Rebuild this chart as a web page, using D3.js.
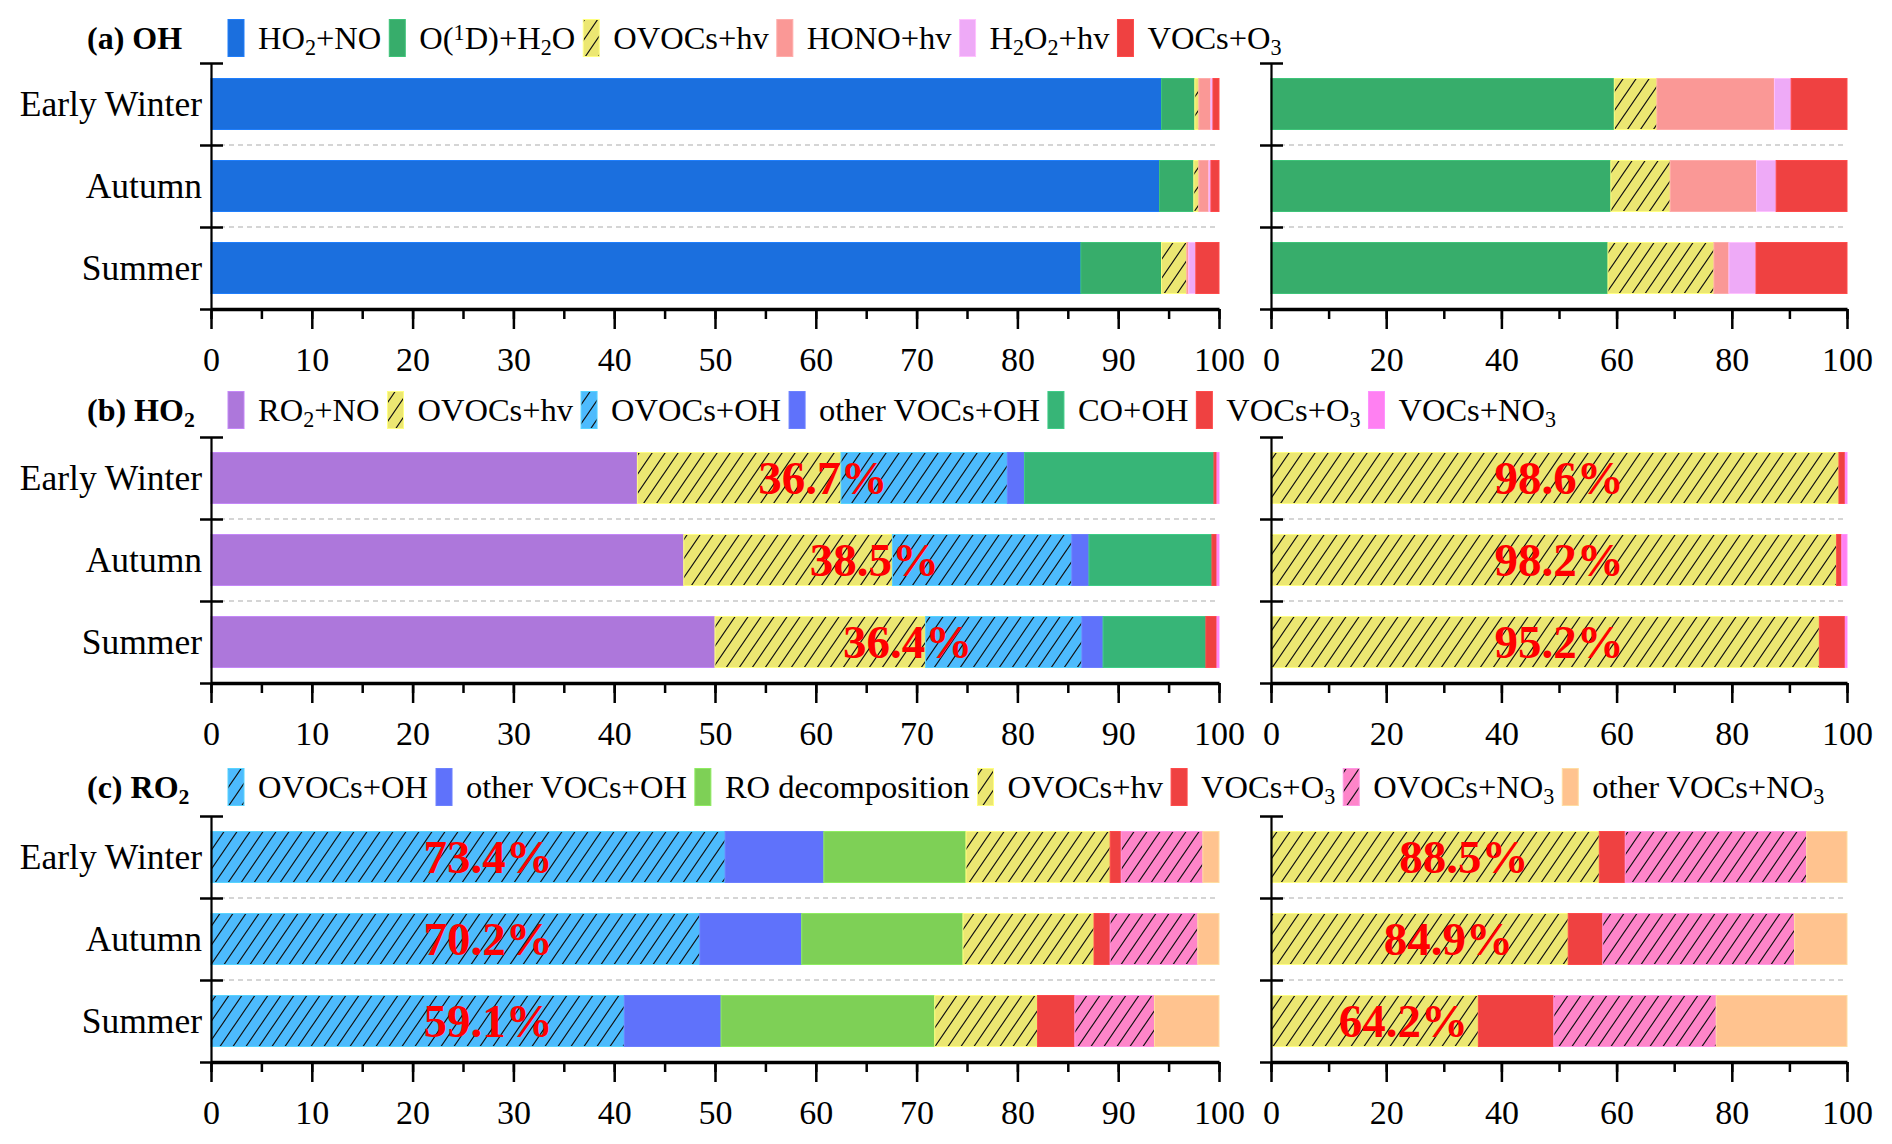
<!DOCTYPE html>
<html>
<head>
<meta charset="utf-8">
<script src="https://cdn.jsdelivr.net/npm/d3@7"></script>
<style>
body { margin: 0; background: #fff; }
text { font-family: "Times New Roman", "Liberation Serif", serif; fill: black; }
.sep { stroke: #c8c8c8; stroke-width: 1.5; stroke-dasharray: 5,4; }
.axis .domain { stroke: black; }
.axis line { stroke: black; }
</style>
</head>
<body>
<div id="container"></div>
<script>
var seasons = ["Early Winter", "Autumn", "Summer"];

// (a) OH production pathways  (_x = subscript, ^x = superscript)
var ohKeys   = ["HO_2+NO", "O(^1D)+H_2O", "OVOCs+hv", "HONO+hv", "H_2O_2+hv", "VOCs+O_3"];
var ohColors = ["#1b6fde", "#37ad6b", "#ece772", "#fa9896", "#eeaaf7", "#ef4141"];
var ohHatch  = [false, false, true, false, false, false];
var ohLeft  = [[94.3, 94.1, 86.3], [3.3, 3.4, 8.0], [0.4, 0.5, 2.5], [1.2, 1.0, 0.2], [0.2, 0.2, 0.7], [0.6, 0.8, 2.3]];
var ohRight = [[0, 0, 0], [59.6, 59.0, 58.5], [7.4, 10.3, 18.4], [20.4, 15.0, 2.6], [2.9, 3.4, 4.7], [9.7, 12.3, 15.8]];

// (b) HO2
var ho2Keys   = ["RO_2+NO", "OVOCs+hv", "OVOCs+OH", "other VOCs+OH", "CO+OH", "VOCs+O_3", "VOCs+NO_3"];
var ho2Colors = ["#ad77db", "#ece772", "#4dbbfd", "#5f72fb", "#37b577", "#ef4141", "#ff80f2"];
var ho2Hatch  = [false, true, true, false, false, false, false];
var ho2Left  = [[42.3, 46.9, 50.0], [20.2, 20.7, 20.9], [16.5, 17.8, 15.5], [1.7, 1.7, 2.1], [18.8, 12.2, 10.2], [0.3, 0.5, 1.1], [0.2, 0.2, 0.2]];
var ho2Right = [[0, 0, 0], [98.6, 98.2, 95.2], [0, 0, 0], [0, 0, 0], [0, 0, 0], [1.1, 0.9, 4.5], [0.3, 0.9, 0.3]];
var ho2LabelsLeft  = ["36.7%", "38.5%", "36.4%"];
var ho2LabelsRight = ["98.6%", "98.2%", "95.2%"];

// (c) RO2
var ro2Keys   = ["OVOCs+OH", "other VOCs+OH", "RO decomposition", "OVOCs+hv", "VOCs+O_3", "OVOCs+NO_3", "other VOCs+NO_3"];
var ro2Colors = ["#4dbbfd", "#5f72fb", "#7ed056", "#ece772", "#ef4141", "#fe85c9", "#ffc38f"];
var ro2Hatch  = [true, false, false, true, false, true, false];
var ro2Left  = [[51.0, 48.5, 41.0], [9.8, 10.1, 9.6], [14.1, 16.0, 21.2], [14.3, 13.0, 10.2], [1.1, 1.6, 3.7], [8.1, 8.7, 7.9], [1.6, 2.1, 6.4]];
var ro2Right = [[0, 0, 0], [0, 0, 0], [0, 0, 0], [57.0, 51.6, 36.0], [4.5, 6.0, 13.1], [31.5, 33.3, 28.2], [7.0, 9.1, 22.7]];
var ro2LabelsLeft  = ["73.4%", "70.2%", "59.1%"];
var ro2LabelsRight = ["88.5%", "84.9%", "64.2%"];

var width = 1892, height = 1144;
var H = 246;
var leftX = [211, 1219], rightX = [1271, 1847];

var svg = d3.select("#container").append("svg")
    .attr("width", width)
    .attr("height", height);

var defs = svg.append("defs");
var patternIds = {};

function fillFor(color, hatch) {
    if (!hatch) return color;
    if (!patternIds[color]) {
        var id = "hatch" + Object.keys(patternIds).length;
        var w = 13, h = 19;
        var p = defs.append("pattern")
            .attr("id", id)
            .attr("patternUnits", "userSpaceOnUse")
            .attr("width", w).attr("height", h);
        p.append("rect").attr("width", w).attr("height", h).attr("fill", color);
        var dpath = "";
        for (var k = -1; k <= 1; k++) {
            dpath += "M" + (k * w - w) + "," + (2 * h) + "L" + (k * w + 2 * w) + "," + (-h);
        }
        p.append("path").attr("d", dpath).attr("stroke", "#111").attr("stroke-width", 1.2);
        patternIds[color] = "url(#" + id + ")";
    }
    return patternIds[color];
}

// write a label with _sub and ^sup markup into a text node
function richText(sel, str) {
    var parts = str.split(/([_^].)/);
    parts.forEach(function(s) {
        if (!s) return;
        if (s[0] == "_" || s[0] == "^") {
            sel.append("tspan")
                .attr("font-size", "68%")
                .attr("baseline-shift", s[0] == "_" ? "-28%" : "40%")
                .text(s[1]);
        } else {
            sel.append("tspan").text(s);
        }
    });
}

function buildRows(values) {
    return seasons.map(function(s, i) {
        var r = { season: s };
        values.forEach(function(v, j) { r[j] = v[i]; });
        return r;
    });
}

function drawSide(g, y, xr, keys, colors, hatch, values, majorStep, minorStep, showCats, labels, labelPos) {
    var top = y.range()[0], bottom = y.range()[1];
    var x = d3.scaleLinear().domain([0, 100]).range(xr);

    // dashed separators between categories
    g.selectAll("line.sep" + xr[0])
        .data(seasons.slice(1))
        .enter().append("line")
        .attr("class", "sep")
        .attr("x1", xr[0]).attr("x2", xr[1])
        .attr("y1", function(d) { return y(d); })
        .attr("y2", function(d) { return y(d); });

    var stack = d3.stack().keys(d3.range(keys.length))(buildRows(values));
    var barH = 51, off = (y.bandwidth() - barH) / 2;

    g.append("g").selectAll("g")
        .data(stack)
        .enter().append("g")
        .each(function(layer) {
            var c = colors[layer.key];
            d3.select(this).selectAll("rect")
                .data(layer.filter(function(d) { return d[1] - d[0] > 0; }))
                .enter().append("rect")
                .attr("x", function(d) { return x(d[0]); })
                .attr("width", function(d) { return x(d[1]) - x(d[0]); })
                .attr("y", function(d) { return y(d.data.season) + off; })
                .attr("height", barH)
                .attr("fill", fillFor(c, hatch[layer.key]))
                .attr("stroke", d3.color(c).brighter(0.35))
                .attr("stroke-width", 1);
        });

    // percentage labels
    if (labels) {
        g.append("g").selectAll("text")
            .data(labels)
            .enter().append("text")
            .attr("x", function(d, i) { return x(labelPos(i)); })
            .attr("y", function(d, i) { return y(seasons[i]) + y.bandwidth() / 2 + 16; })
            .attr("text-anchor", "middle")
            .attr("font-size", 47)
            .attr("font-weight", "bold")
            .style("fill", "#ff0000")
            .text(function(d) { return d; });
    }

    // x axis: minor then major
    g.append("g")
        .attr("class", "axis")
        .attr("transform", "translate(0," + bottom + ")")
        .call(d3.axisBottom(x).tickValues(d3.range(0, 101, minorStep)).tickSize(10).tickSizeOuter(0).tickFormat(""))
        .call(function(a) { a.select(".domain").remove(); a.selectAll("line").attr("stroke-width", 2.5); });

    g.append("g")
        .attr("class", "axis")
        .attr("transform", "translate(0," + bottom + ")")
        .call(d3.axisBottom(x).tickValues(d3.range(0, 101, majorStep)).tickSize(20).tickSizeOuter(0).tickPadding(18))
        .call(function(a) {
            a.select(".domain").attr("stroke-width", 3.5);
            a.selectAll("line").attr("stroke-width", 2.5);
            a.selectAll("text").attr("font-size", 34).attr("font-family", null);
        });

    // y axis with ticks at category boundaries, crossing the line
    var yb = d3.scaleLinear().domain([0, 3]).range([top, bottom]);
    g.append("g")
        .attr("class", "axis")
        .attr("transform", "translate(" + xr[0] + ",0)")
        .call(d3.axisLeft(yb).tickValues([0, 1, 2, 3]).tickSize(11).tickSizeOuter(0).tickFormat(""))
        .call(function(a) { a.select(".domain").attr("stroke-width", 2.2); a.selectAll("line").attr("stroke-width", 2.5); });
    g.append("g")
        .attr("class", "axis")
        .attr("transform", "translate(" + xr[0] + ",0)")
        .call(d3.axisRight(yb).tickValues([0, 1, 2]).tickSize(12).tickFormat(""))
        .call(function(a) { a.select(".domain").remove(); a.selectAll("line").attr("stroke-width", 2.5); });

    if (showCats) {
        g.append("g").selectAll("text")
            .data(seasons)
            .enter().append("text")
            .attr("x", xr[0] - 9)
            .attr("y", function(d) { return y(d) + y.bandwidth() / 2 + 11.5; })
            .attr("text-anchor", "end")
            .attr("font-size", 35.5)
            .text(function(d) { return d; });
    }
}

function drawLegend(g, title, keys, colors, hatch, cy) {
    var t = g.append("text")
        .attr("x", 87).attr("y", cy + 10.5)
        .attr("font-size", 32).attr("font-weight", "bold");
    richText(t, title);

    var xpos = 228;
    keys.forEach(function(k, i) {
        g.append("rect")
            .attr("x", xpos).attr("y", cy - 18.5)
            .attr("width", 16).attr("height", 37)
            .attr("fill", fillFor(colors[i], hatch[i]))
            .attr("stroke", d3.color(colors[i]).brighter(0.35))
            .attr("stroke-width", 1);
        var lt = g.append("text")
            .attr("x", xpos + 30).attr("y", cy + 11)
            .attr("font-size", 32.5);
        richText(lt, k);
        xpos += 30 + lt.node().getComputedTextLength() + 8;
    });
}

function drawPanel(top, legendY, title, keys, colors, hatch, left, right, lblL, lblR, posL, posR) {
    var g = svg.append("g");
    var y = d3.scaleBand().domain(seasons).range([top, top + H]).padding(0);
    drawSide(g, y, leftX, keys, colors, hatch, left, 10, 5, true, lblL, posL);
    drawSide(g, y, rightX, keys, colors, hatch, right, 20, 10, false, lblR, posR);
    drawLegend(g, title, keys, colors, hatch, legendY);
}

function cum(values, upto, i) {
    var s = 0;
    for (var j = 0; j <= upto; j++) s += values[j][i];
    return s;
}

drawPanel(63, 38, "(a) OH", ohKeys, ohColors, ohHatch, ohLeft, ohRight, null, null);

drawPanel(437, 410, "(b) HO_2", ho2Keys, ho2Colors, ho2Hatch, ho2Left, ho2Right,
    ho2LabelsLeft, ho2LabelsRight,
    function(i) { return cum(ho2Left, 1, i) - 1.8; },
    function(i) { return 50; });

drawPanel(816, 787, "(c) RO_2", ro2Keys, ro2Colors, ro2Hatch, ro2Left, ro2Right,
    ro2LabelsLeft, ro2LabelsRight,
    function(i) { return 27.5; },
    function(i) { return ro2Right[3][i] / 2 + 5; });
</script>
</body>
</html>
